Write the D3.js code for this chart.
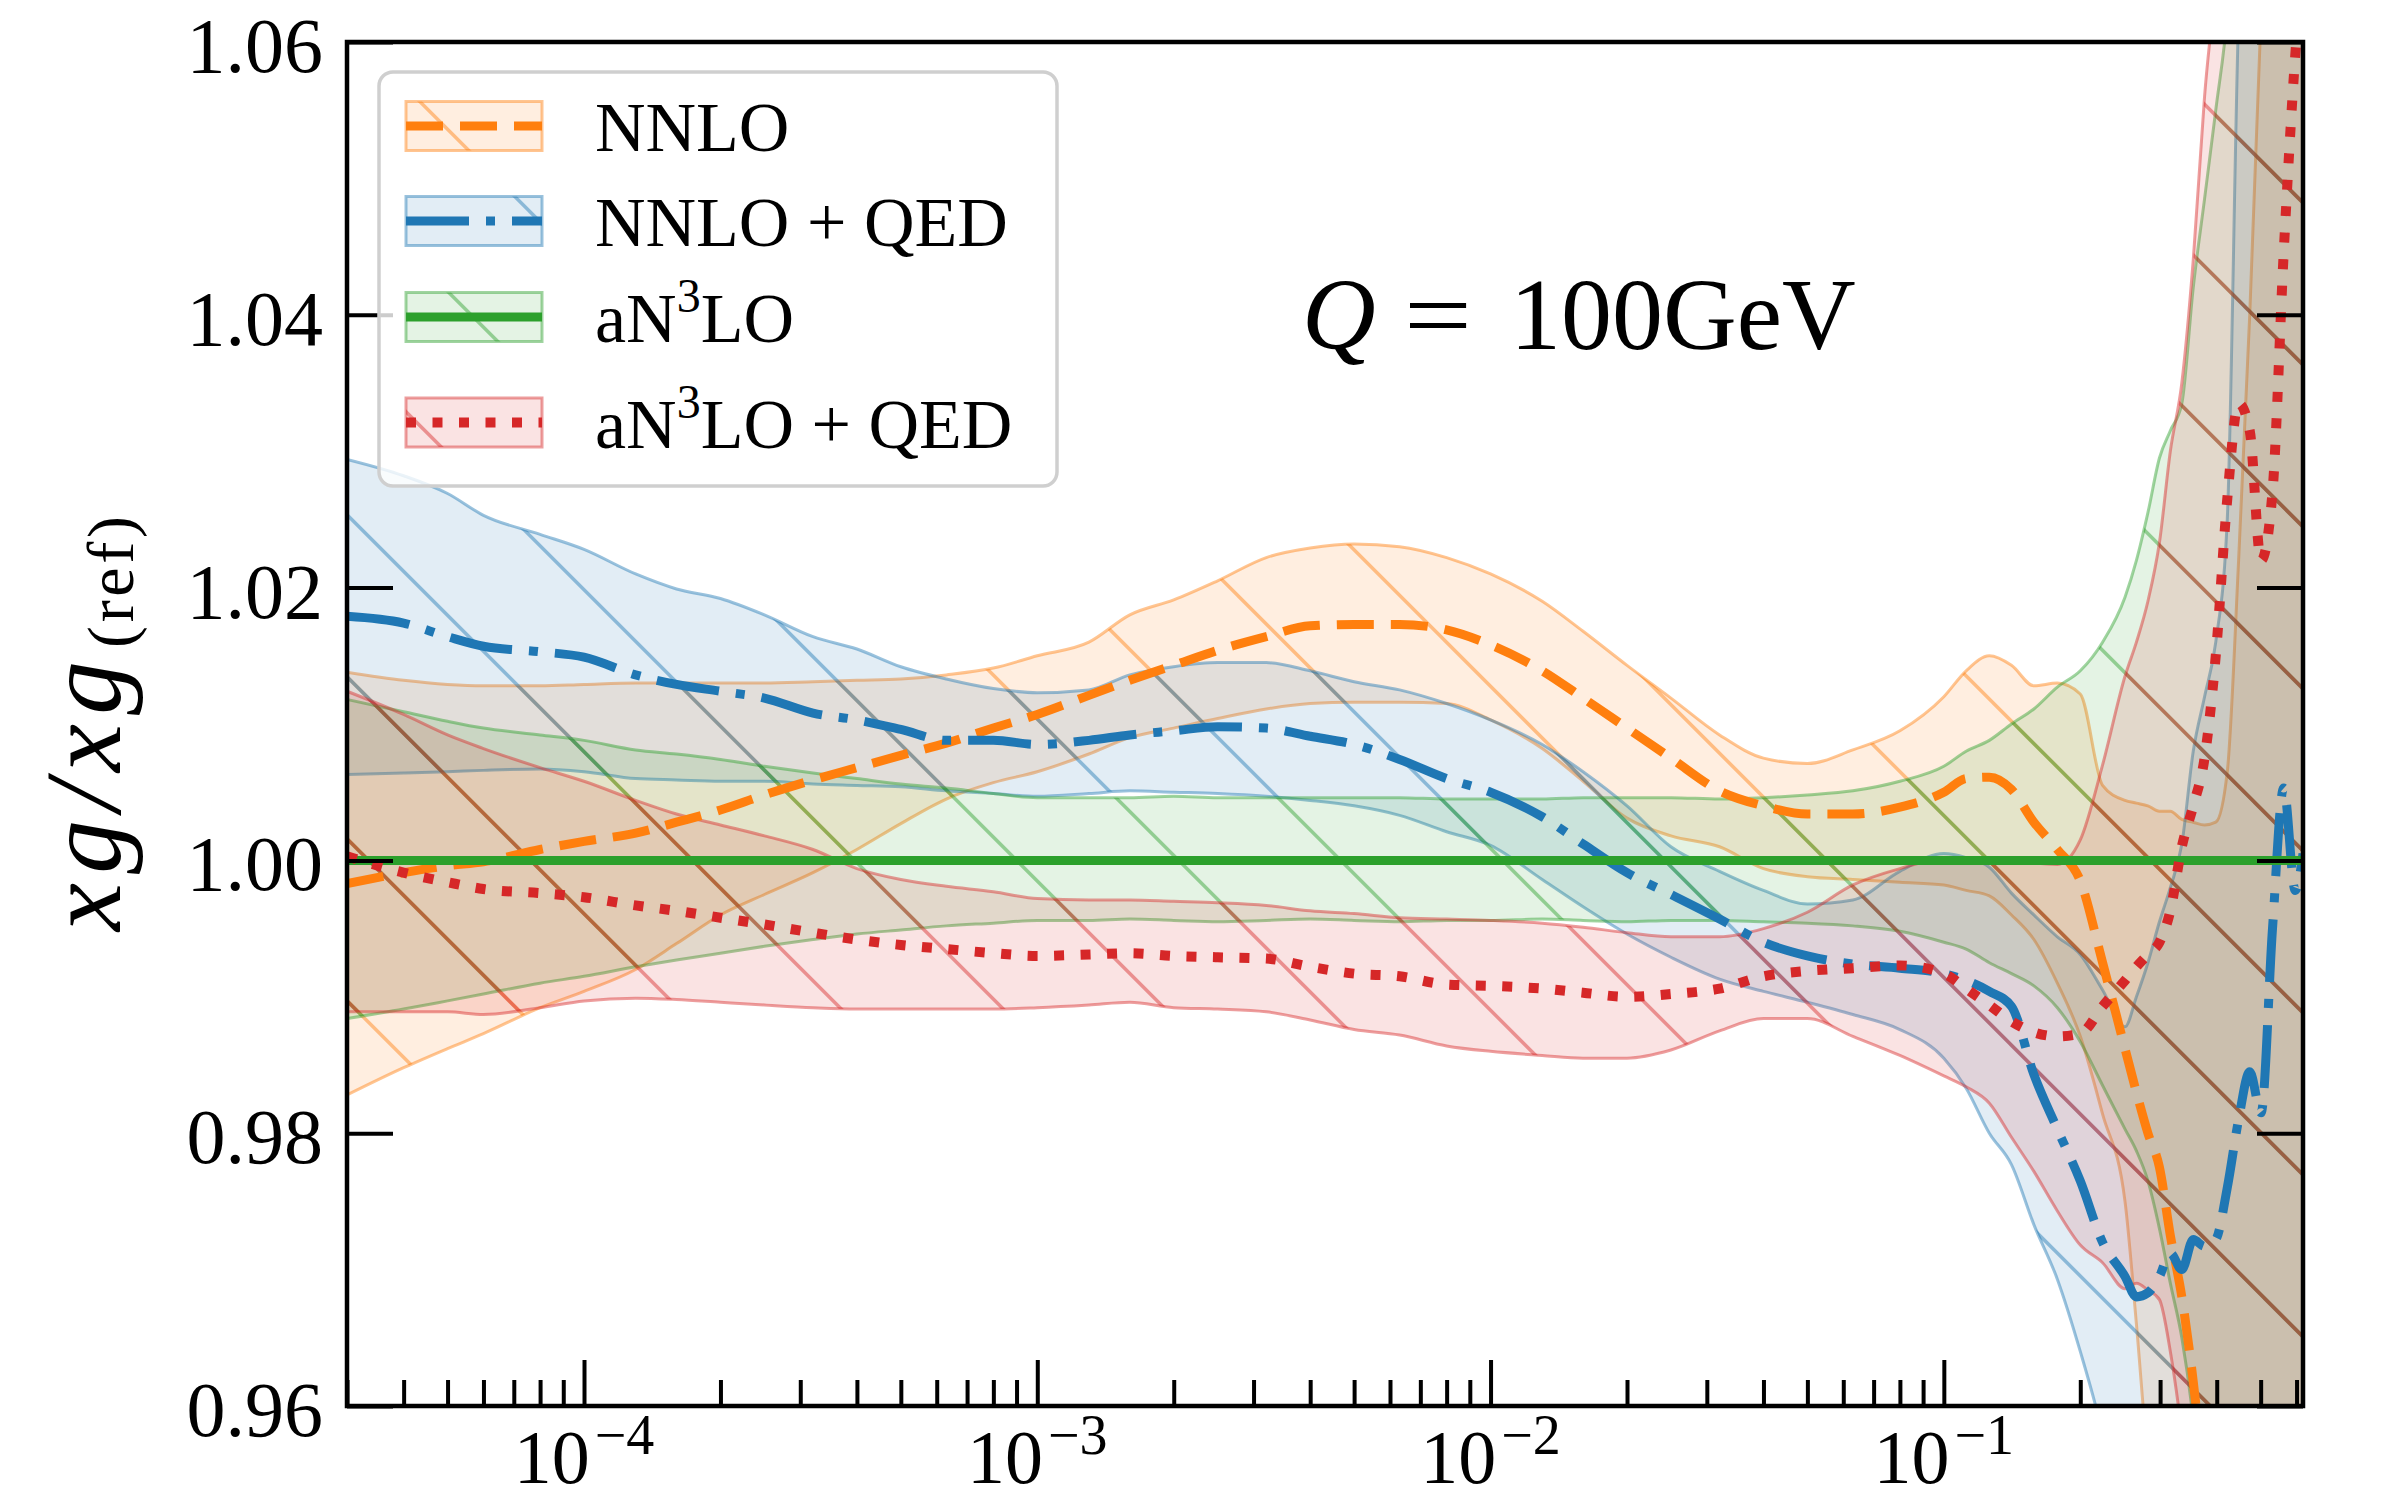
<!DOCTYPE html>
<html>
<head>
<meta charset="utf-8">
<script src="https://cdn.jsdelivr.net/npm/d3@7"></script>
<style>
  html, body { margin: 0; padding: 0; background: #ffffff; }
  svg { display: block; }
</style>
</head>
<body>
<svg id="chart" width="2383" height="1501"></svg>
<script>
// ---- data: gluon ratio xg / xg(ref) at Q = 100 GeV ----
const xValues = [3.0e-5, 4.0e-5, 5.0e-5, 6.0e-5, 8.0e-5, 1.0e-4, 1.3e-4, 1.6e-4, 2.0e-4, 2.5e-4,
  3.2e-4, 4.0e-4, 5.0e-4, 6.3e-4, 8.0e-4, 1.0e-3, 1.3e-3, 1.6e-3, 2.0e-3, 2.5e-3,
  3.2e-3, 4.0e-3, 5.0e-3, 6.3e-3, 8.0e-3, 1.0e-2, 1.3e-2, 1.6e-2, 2.0e-2, 2.5e-2,
  3.2e-2, 4.0e-2, 5.0e-2, 6.3e-2, 8.0e-2, 0.100, 0.112, 0.126, 0.141, 0.158,
  0.178, 0.200, 0.224, 0.251, 0.266, 0.282, 0.299, 0.316, 0.335, 0.355,
  0.376, 0.398, 0.422, 0.447, 0.473, 0.501, 0.531, 0.562, 0.596, 0.620];

// NNLO
const nnloCentral = [0.9983, 0.9991, 0.9996, 0.9999, 1.0008, 1.0014, 1.0020, 1.0028, 1.0037, 1.0048,
  1.0059, 1.0068, 1.0077, 1.0086, 1.0097, 1.0107, 1.0121, 1.0132, 1.0143, 1.0154,
  1.0164, 1.0172, 1.0173, 1.0173, 1.0169, 1.0158, 1.0139, 1.0119, 1.0097, 1.0075,
  1.0051, 1.0040, 1.0034, 1.0034, 1.0039, 1.0050, 1.0060, 1.0061, 1.0052, 1.0028,
  1.0008, 0.9985, 0.9925, 0.9862, 0.9830, 0.9800, 0.9775, 0.9725, 0.9680, 0.9618,
  0.9540, null, null, null, null, null, null, null, null, null];
const nnloLow = [0.9828, 0.9848, 0.9862, 0.9873, 0.9892, 0.9904, 0.9920, 0.9939, 0.9960, 0.9975,
  0.9991, 1.0008, 1.0027, 1.0045, 1.0057, 1.0065, 1.0078, 1.0090, 1.0097, 1.0104,
  1.0111, 1.0115, 1.0116, 1.0116, 1.0115, 1.0103, 1.0082, 1.0058, 1.0031, 1.0018,
  1.0010, 0.9994, 0.9988, 0.9986, 0.9984, 0.9982, 0.9978, 0.9974, 0.9960, 0.9942,
  0.9910, 0.9871, 0.9814, 0.9750, 0.9660, 0.9560, 0.9500, 0.9450, 0.9450, 0.9450,
  0.9450, 0.9450, 0.9450, 0.9450, 0.9450, 0.9450, 0.9450, 0.9450, 0.9450, 0.9450];
const nnloHigh = [1.0138, 1.0132, 1.0129, 1.0128, 1.0128, 1.0129, 1.0130, 1.0130, 1.0130, 1.0130,
  1.0131, 1.0132, 1.0133, 1.0136, 1.0141, 1.0150, 1.0160, 1.0180, 1.0191, 1.0205,
  1.0222, 1.0229, 1.0232, 1.0230, 1.0222, 1.0210, 1.0190, 1.0168, 1.0143, 1.0119,
  1.0092, 1.0075, 1.0071, 1.0081, 1.0095, 1.0120, 1.0139, 1.0150, 1.0143, 1.0128,
  1.0130, 1.0122, 1.0055, 1.0044, 1.0042, 1.0040, 1.0036, 1.0036, 1.0030, 1.0028,
  1.0026, 1.0028, 1.0065, 1.0220, 1.0400, 1.0620, 1.0800, 1.0900, 1.1000, 1.1000];

// NNLO + QED
const nnloQedCentral = [1.0179, 1.0174, 1.0164, 1.0157, 1.0153, 1.0149, 1.0136, 1.0129, 1.0124, 1.0119,
  1.0108, 1.0103, 1.0096, 1.0088, 1.0088, 1.0085, 1.0088, 1.0092, 1.0095, 1.0098,
  1.0097, 1.0091, 1.0085, 1.0074, 1.0060, 1.0050, 1.0032, 1.0012, 0.9991, 0.9975,
  0.9957, 0.9940, 0.9930, 0.9924, 0.9921, 0.9917, 0.9912, 0.9904, 0.9893, 0.9843,
  0.9803, 0.9765, 0.9720, 0.9695, 0.9680, 0.9683, 0.9695, 0.9712, 0.9700, 0.9722,
  0.9717, 0.9722, 0.9760, 0.9810, 0.9845, 0.9815, 0.9950, 1.0053, 0.9978, 1.0005];
const nnloQedLow = [1.0063, 1.0064, 1.0065, 1.0066, 1.0067, 1.0065, 1.0060, 1.0059, 1.0058, 1.0058,
  1.0056, 1.0055, 1.0054, 1.0051, 1.0049, 1.0047, 1.0049, 1.0051, 1.0050, 1.0049,
  1.0047, 1.0044, 1.0040, 1.0033, 1.0021, 1.0011, 0.9986, 0.9966, 0.9946, 0.9929,
  0.9913, 0.9904, 0.9896, 0.9887, 0.9876, 0.9855, 0.9833, 0.9800, 0.9777, 0.9733,
  0.9693, 0.9640, 0.9580, 0.9500, 0.9450, 0.9450, 0.9450, 0.9450, 0.9450, 0.9450,
  0.9450, 0.9450, 0.9450, 0.9450, 0.9450, 0.9450, 0.9450, 0.9450, 0.9450, 0.9450];
const nnloQedHigh = [1.0294, 1.0282, 1.0269, 1.0253, 1.0239, 1.0228, 1.0210, 1.0199, 1.0192, 1.0180,
  1.0164, 1.0155, 1.0142, 1.0133, 1.0126, 1.0123, 1.0125, 1.0136, 1.0142, 1.0145,
  1.0145, 1.0139, 1.0131, 1.0125, 1.0115, 1.0103, 1.0085, 1.0065, 1.0040, 1.0010,
  0.9992, 0.9978, 0.9968, 0.9971, 0.9992, 1.0005, 1.0002, 0.9995, 0.9976, 0.9960,
  0.9944, 0.9931, 0.9905, 0.9878, 0.9900, 0.9925, 0.9955, 0.9980, 1.0012, 1.0080,
  1.0120, 1.0160, 1.0250, 1.0620, 1.0800, 1.0900, 1.0900, 1.0900, 1.0900, 1.0900];

// aN3LO (reference set)
const an3loCentral = [1.0, 1.0, 1.0, 1.0, 1.0, 1.0, 1.0, 1.0, 1.0, 1.0,
  1.0, 1.0, 1.0, 1.0, 1.0, 1.0, 1.0, 1.0, 1.0, 1.0,
  1.0, 1.0, 1.0, 1.0, 1.0, 1.0, 1.0, 1.0, 1.0, 1.0,
  1.0, 1.0, 1.0, 1.0, 1.0, 1.0, 1.0, 1.0, 1.0, 1.0,
  1.0, 1.0, 1.0, 1.0, 1.0, 1.0, 1.0, 1.0, 1.0, 1.0,
  1.0, 1.0, 1.0, 1.0, 1.0, 1.0, 1.0, 1.0, 1.0, 1.0];
const an3loLow = [0.9884, 0.9891, 0.9897, 0.9902, 0.9910, 0.9915, 0.9922, 0.9927, 0.9932, 0.9937,
  0.9942, 0.9946, 0.9949, 0.9952, 0.9954, 0.9956, 0.9956, 0.9957, 0.9956, 0.9955,
  0.9956, 0.9957, 0.9956, 0.9955, 0.9956, 0.9956, 0.9957, 0.9956, 0.9955, 0.9956,
  0.9956, 0.9955, 0.9954, 0.9952, 0.9948, 0.9940, 0.9935, 0.9925, 0.9917, 0.9908,
  0.9892, 0.9867, 0.9835, 0.9803, 0.9787, 0.9765, 0.9730, 0.9690, 0.9650, 0.9590,
  0.9500, 0.9450, 0.9450, 0.9450, 0.9450, 0.9450, 0.9450, 0.9450, 0.9450, 0.9450];
const an3loHigh = [1.0118, 1.0109, 1.0102, 1.0097, 1.0092, 1.0088, 1.0081, 1.0078, 1.0074, 1.0069,
  1.0064, 1.0060, 1.0056, 1.0053, 1.0049, 1.0046, 1.0046, 1.0046, 1.0047, 1.0046,
  1.0046, 1.0046, 1.0046, 1.0046, 1.0045, 1.0045, 1.0045, 1.0046, 1.0046, 1.0046,
  1.0045, 1.0046, 1.0048, 1.0051, 1.0058, 1.0069, 1.0080, 1.0088, 1.0100, 1.0111,
  1.0127, 1.0139, 1.0160, 1.0193, 1.0220, 1.0255, 1.0295, 1.0315, 1.0335, 1.0420,
  1.0485, 1.0550, 1.0620, 1.0750, 1.0900, 1.0900, 1.0900, 1.0900, 1.0900, 1.0900];

// aN3LO + QED
const an3loQedCentral = [1.0003, 0.9991, 0.9984, 0.9979, 0.9976, 0.9973, 0.9967, 0.9963, 0.9958, 0.9953,
  0.9947, 0.9942, 0.9938, 0.9935, 0.9932, 0.9930, 0.9931, 0.9932, 0.9930, 0.9929,
  0.9928, 0.9922, 0.9917, 0.9915, 0.9909, 0.9908, 0.9906, 0.9903, 0.9900, 0.9902,
  0.9906, 0.9915, 0.9919, 0.9921, 0.9923, 0.9917, 0.9906, 0.9894, 0.9882, 0.9874,
  0.9871, 0.9873, 0.9893, 0.9912, 0.9922, 0.9931, 0.9940, 0.9963, 1.0010, 1.0040,
  1.0075, 1.0150, 1.0265, 1.0335, 1.0315, 1.0220, 1.0270, 1.0445, 1.0590, 1.0660];
const an3loQedLow = [0.9889, 0.9889, 0.9889, 0.9887, 0.9892, 0.9897, 0.9899, 0.9898, 0.9896, 0.9894,
  0.9892, 0.9891, 0.9891, 0.9891, 0.9891, 0.9892, 0.9894, 0.9896, 0.9892, 0.9891,
  0.9889, 0.9883, 0.9876, 0.9872, 0.9864, 0.9860, 0.9857, 0.9855, 0.9855, 0.9861,
  0.9875, 0.9884, 0.9884, 0.9871, 0.9857, 0.9842, 0.9834, 0.9822, 0.9797, 0.9772,
  0.9743, 0.9718, 0.9705, 0.9686, 0.9690, 0.9685, 0.9678, 0.9640, 0.9580, 0.9500,
  0.9450, 0.9450, 0.9450, 0.9450, 0.9450, 0.9450, 0.9450, 0.9450, 0.9450, 0.9450];
const an3loQedHigh = [1.0124, 1.0107, 1.0092, 1.0082, 1.0068, 1.0058, 1.0044, 1.0034, 1.0026, 1.0018,
  1.0008, 0.9994, 0.9986, 0.9981, 0.9977, 0.9972, 0.9971, 0.9971, 0.9970, 0.9969,
  0.9967, 0.9963, 0.9961, 0.9958, 0.9957, 0.9956, 0.9954, 0.9951, 0.9947, 0.9944,
  0.9944, 0.9950, 0.9962, 0.9982, 0.9994, 1.0001, 1.0001, 0.9999, 1.0000, 0.9998,
  0.9997, 1.0015, 1.0070, 1.0135, 1.0160, 1.0190, 1.0233, 1.0300, 1.0350, 1.0440,
  1.0560, 1.0650, 1.0800, 1.0800, 1.0800, 1.0800, 1.0800, 1.0800, 1.0800, 1.0800];

const seriesLabels = ["NNLO", "NNLO + QED", "aN³LO", "aN³LO + QED"];
const seriesColors = ["#ff7f0e", "#1f77b4", "#2ca02c", "#d62728"];

const yTickValues = [0.96, 0.98, 1.00, 1.02, 1.04, 1.06];
const yTickLabels = ["0.96", "0.98", "1.00", "1.02", "1.04", "1.06"];
const xMajorTickValues = [1e-4, 1e-3, 1e-2, 1e-1];
const xTickExponents = ["−4", "−3", "−2", "−1"];

// ---- layout ----
const FONT = "'Liberation Serif', 'Times New Roman', serif";
const plot = { left: 347, right: 2303, top: 42, bottom: 1406 };
const HATCH_STEP = 162, HATCH_OFFSET = -5.7;
const FILL_OPACITY = 0.13, EDGE_OPACITY = 0.45;

const series = [
  { color: seriesColors[0], dash: "37,17", width: 9, central: nnloCentral, low: nnloLow, high: nnloHigh },
  { color: seriesColors[1], dash: "63,17,9,17", width: 9, central: nnloQedCentral, low: nnloQedLow, high: nnloQedHigh },
  { color: seriesColors[2], dash: null, width: 9, central: an3loCentral, low: an3loLow, high: an3loHigh },
  { color: seriesColors[3], dash: "10,16.5", width: 10, central: an3loQedCentral, low: an3loQedLow, high: an3loQedHigh }
];

const svg = d3.select("#chart");
svg.append("rect").attr("width", 2383).attr("height", 1501).attr("fill", "#ffffff");

const x = d3.scaleLog().domain([3e-5, 0.62]).range([plot.left, plot.right]);
const y = d3.scaleLinear().domain([0.96, 1.06]).range([plot.bottom, plot.top]);

const defs = svg.append("defs");
defs.append("clipPath").attr("id", "plot-clip")
  .append("rect")
  .attr("x", plot.left).attr("y", plot.top)
  .attr("width", plot.right - plot.left).attr("height", plot.bottom - plot.top);

// diagonal hatch lines (y = x - c) covering a rectangle
function drawHatch(g, x0, x1, y0, y1, color) {
  const kMin = Math.floor((x0 - y1 - HATCH_OFFSET) / HATCH_STEP) - 1;
  const kMax = Math.ceil((x1 - y0 - HATCH_OFFSET) / HATCH_STEP) + 1;
  for (let k = kMin; k <= kMax; k++) {
    const c = HATCH_OFFSET + k * HATCH_STEP;
    g.append("line")
      .attr("x1", x0).attr("y1", x0 - c)
      .attr("x2", x1).attr("y2", x1 - c)
      .attr("stroke", color).attr("stroke-opacity", EDGE_OPACITY)
      .attr("stroke-width", 3.5);
  }
}

const idx = d3.range(xValues.length);

// ---- uncertainty bands ----
const bandLayer = svg.append("g").attr("clip-path", "url(#plot-clip)");
series.forEach((s, si) => {
  const area = d3.area()
    .x(i => x(xValues[i]))
    .y0(i => y(s.low[i]))
    .y1(i => y(s.high[i]))
    .curve(d3.curveMonotoneX);
  const d = area(idx);
  defs.append("clipPath").attr("id", "band-clip-" + si).append("path").attr("d", d);

  bandLayer.append("path").attr("d", d)
    .attr("fill", s.color).attr("fill-opacity", FILL_OPACITY).attr("stroke", "none");

  const hatch = bandLayer.append("g").attr("clip-path", "url(#band-clip-" + si + ")");
  drawHatch(hatch, plot.left - 10, plot.right + 10, plot.top - 10, plot.bottom + 10, s.color);

  [s.low, s.high].forEach(edge => {
    bandLayer.append("path")
      .attr("d", d3.line().x(i => x(xValues[i])).y(i => y(edge[i])).curve(d3.curveMonotoneX)(idx))
      .attr("fill", "none").attr("stroke", s.color)
      .attr("stroke-opacity", EDGE_OPACITY).attr("stroke-width", 3);
  });
});

// ---- central values ----
const lineLayer = svg.append("g").attr("clip-path", "url(#plot-clip)");
series.forEach(s => {
  const line = d3.line()
    .defined(i => s.central[i] !== null)
    .x(i => x(xValues[i]))
    .y(i => y(s.central[i]))
    .curve(d3.curveMonotoneX);
  lineLayer.append("path").attr("d", line(idx))
    .attr("fill", "none").attr("stroke", s.color)
    .attr("stroke-width", s.width)
    .attr("stroke-dasharray", s.dash)
    .attr("stroke-linecap", s.dash ? "butt" : "square");
});

// ---- axes: inward ticks ----
function styleAxis(g) {
  g.select(".domain").remove();
  g.selectAll(".tick line").attr("stroke", "#000").attr("stroke-width", 4);
  g.selectAll(".tick text").remove();
}
const allXTicks = x.ticks();
const isDecade = t => Math.abs(Math.log10(t) - Math.round(Math.log10(t))) < 1e-9;
const minorXTicks = allXTicks.filter(t => !isDecade(t));

svg.append("g").attr("transform", `translate(0,${plot.bottom})`)
  .call(d3.axisBottom(x).tickValues(xMajorTickValues).tickSize(-46).tickFormat(""))
  .call(styleAxis);
svg.append("g").attr("transform", `translate(0,${plot.bottom})`)
  .call(d3.axisBottom(x).tickValues(minorXTicks).tickSize(-26).tickFormat(""))
  .call(styleAxis);
svg.append("g").attr("transform", `translate(${plot.left},0)`)
  .call(d3.axisLeft(y).tickValues(yTickValues).tickSize(-46).tickFormat(""))
  .call(styleAxis);
svg.append("g").attr("transform", `translate(${plot.right},0)`)
  .call(d3.axisRight(y).tickValues(yTickValues).tickSize(-46).tickFormat(""))
  .call(styleAxis);

// spines
svg.append("rect")
  .attr("x", plot.left).attr("y", plot.top)
  .attr("width", plot.right - plot.left).attr("height", plot.bottom - plot.top)
  .attr("fill", "none").attr("stroke", "#000").attr("stroke-width", 4.5);

// y tick labels
yTickValues.forEach((v, i) => {
  svg.append("text")
    .attr("x", plot.left - 24).attr("y", y(v) + 30)
    .attr("text-anchor", "end")
    .attr("font-family", FONT).attr("font-size", 78)
    .attr("fill", "#000")
    .text(yTickLabels[i]);
});

// x tick labels 10^n
xMajorTickValues.forEach((v, i) => {
  const t = svg.append("text")
    .attr("x", x(v)).attr("y", 1483)
    .attr("text-anchor", "middle")
    .attr("font-family", FONT).attr("fill", "#000");
  t.append("tspan").attr("font-size", 76).text("10");
  t.append("tspan").attr("font-size", 56).attr("dx", 5).attr("dy", -29).text(xTickExponents[i]);
});

// y axis label
const ylab = svg.append("text")
  .attr("transform", "translate(120,727) rotate(-90)")
  .attr("x", -204).attr("y", 0)
  .attr("font-family", FONT).attr("fill", "#000");
ylab.append("tspan").attr("font-style", "italic").attr("font-size", 108)
  .attr("textLength", 270).attr("lengthAdjust", "spacing").text("xg/xg");
ylab.append("tspan").attr("font-size", 66).attr("dx", 4).attr("dy", 13)
  .attr("textLength", 132).attr("lengthAdjust", "spacing").text("(ref)");

// scale annotation
const qText = svg.append("text").attr("y", 349)
  .attr("font-family", FONT).attr("font-size", 102).attr("fill", "#000");
qText.append("tspan").attr("x", 1302).attr("font-style", "italic").text("Q");
qText.append("tspan").attr("x", 1404)
  .attr("textLength", 68).attr("lengthAdjust", "spacingAndGlyphs").text("=");
qText.append("tspan").attr("x", 1510).text("100GeV");

// ---- legend ----
const legend = svg.append("g");
legend.append("rect")
  .attr("x", 379).attr("y", 72).attr("width", 678).attr("height", 414)
  .attr("rx", 14).attr("ry", 14)
  .attr("fill", "#ffffff").attr("fill-opacity", 0.8)
  .attr("stroke", "#cfcfcf").attr("stroke-width", 3.5);

const handle = { x: 406, w: 136, h: 49 };
const rowCenters = [126, 221, 317, 422.5];
series.forEach((s, si) => {
  const cy = rowCenters[si];
  const top = cy - handle.h / 2;
  defs.append("clipPath").attr("id", "legend-clip-" + si)
    .append("rect").attr("x", handle.x).attr("y", top).attr("width", handle.w).attr("height", handle.h);
  legend.append("rect")
    .attr("x", handle.x).attr("y", top).attr("width", handle.w).attr("height", handle.h)
    .attr("fill", s.color).attr("fill-opacity", FILL_OPACITY).attr("stroke", "none");
  const hg = legend.append("g").attr("clip-path", "url(#legend-clip-" + si + ")");
  drawHatch(hg, handle.x - 5, handle.x + handle.w + 5, top - 5, top + handle.h + 5, s.color);
  legend.append("rect")
    .attr("x", handle.x).attr("y", top).attr("width", handle.w).attr("height", handle.h)
    .attr("fill", "none").attr("stroke", s.color)
    .attr("stroke-opacity", EDGE_OPACITY).attr("stroke-width", 3);
  legend.append("line")
    .attr("x1", handle.x).attr("x2", handle.x + handle.w)
    .attr("y1", cy).attr("y2", cy)
    .attr("stroke", s.color).attr("stroke-width", s.width)
    .attr("stroke-dasharray", s.dash);

  const label = seriesLabels[si];
  const txt = legend.append("text")
    .attr("x", 595).attr("y", cy + 25)
    .attr("font-family", FONT).attr("font-size", 70).attr("fill", "#000");
  const parts = label.split("³");
  txt.append("tspan").text(parts[0]);
  if (parts.length > 1) {
    txt.append("tspan").attr("font-size", 48).attr("dy", -30).text("3");
    txt.append("tspan").attr("dy", 30).text(parts[1]);
  }
});
</script>
</body>
</html>
